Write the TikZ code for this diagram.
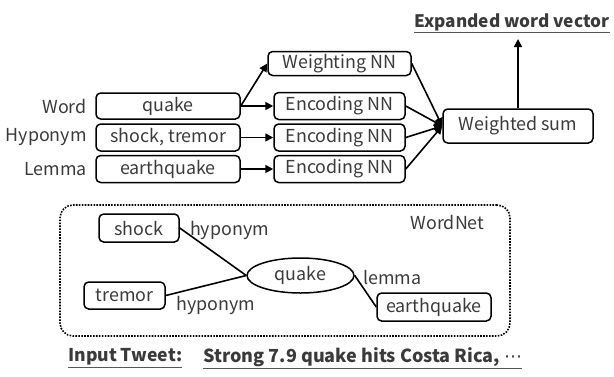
\documentclass[tikz,border=0pt]{standalone}
\usepackage{fontspec}
\setmainfont{Noto Sans CJK JP}
\newfontfamily\symfont{DejaVu Sans}
\usetikzlibrary{arrows.meta,shapes.geometric}
\definecolor{txt}{HTML}{3A3A3A}
\begin{document}
\begin{tikzpicture}[x=0.75pt,y=-0.75pt,
  font=\fontsize{13.4}{15}\selectfont, text=txt,
  box/.style={draw=black, line width=1.5pt*0.75, rounded corners=3.5pt,
    inner sep=0pt, minimum width=#1*0.75pt},
  lbl/.style={inner sep=0pt},
  conn/.style={line width=1.6pt*0.75, black},
  arr/.style={conn, -{Triangle[length=6pt,width=6pt]}},
  uline/.style={line width=1.3pt*0.75, txt!85},
  title/.style={inner sep=0pt, font=\fontsize{#1}{15}\selectfont\bfseries}]
\useasboundingbox (0,0) rectangle (614,376);

% input words and their roles
\node[box=144, minimum height=26*0.75pt] (qk)  at (168,106) {quake};
\node[box=144, minimum height=27*0.75pt] (hyp) at (168,137.5) {shock, tremor};
\node[box=144, minimum height=27*0.75pt] (lem) at (168,169) {earthquake};
\node[lbl, anchor=east] (lword) at (87,106) {Word};
\node[lbl, anchor=east] (lhyp)  at (87,137.5) {Hyponym};
\node[lbl, anchor=east] (llem)  at (87,169) {Lemma};

% networks
\node[box=143, minimum height=24*0.75pt] (wnn)  at (339.5,63.5) {Weighting NN};
\node[box=131, minimum height=27*0.75pt] (enc1) at (339.5,106) {Encoding NN};
\node[box=131, minimum height=27*0.75pt] (enc2) at (339.5,137.5) {Encoding NN};
\node[box=131, minimum height=27*0.75pt] (enc3) at (339.5,169) {Encoding NN};
\node[box=150, minimum height=34*0.75pt] (wsum) at (518,126) {Weighted sum};

\node[title=12.9] (out) at (512,22) {Expanded word vector};
\draw[uline] ([yshift=-1.2pt]out.south west) -- ([yshift=-1.2pt]out.south east);
\coordinate (outtip) at (518,39);

\draw[arr] (qk.east) -- (wnn.west);
\draw[arr] (qk.east) -- (enc1.west);
\draw[arr] (hyp.east) -- (enc2.west);
\draw[arr] (lem.east) -- (enc3.west);
\draw[arr] (wnn.east) -- (wsum.west);
\draw[arr] (enc1.east) -- (wsum.west);
\draw[arr] (enc2.east) -- (wsum.west);
\draw[arr] (enc3.east) -- (wsum.west);
\draw[arr] (wsum.north) -- (outtip);

% WordNet excerpt
\node[draw=black, densely dotted, line width=1.6pt*0.75, rounded corners=13*0.75pt,
  minimum width=450*0.75pt, minimum height=131*0.75pt, inner sep=0pt] (wn) at (285,270.5) {};
\node[lbl] (wnlbl) at (447.5,222) {WordNet};
\node[box=80, minimum height=28*0.75pt] (shock) at (139,228) {shock};
\node[box=81, minimum height=27*0.75pt] (tremor) at (124.5,295.5) {tremor};
\node[draw=black, line width=1.5pt*0.75, ellipse, inner sep=0pt,
  minimum width=107*0.75pt, minimum height=35*0.75pt] (wq) at (300.5,275.5) {quake};
\node[box=114, minimum height=28*0.75pt] (eq) at (434,307) {earthquake};
\draw[conn] (shock.east) -- (wq.west);
\draw[conn] (tremor.east) -- (wq.west);
\draw[conn] (wq.east) -- (eq.west);
\node[lbl] (h1) at (229.5,230) {hyponym};
\node[lbl] (h2) at (216,305) {hyponym};
\node[lbl] (lm) at (392.5,277) {lemma};

% input sentence
\node[title=13.2, anchor=west] (intw) at (68,357) {Input Tweet:};
\draw[uline] ([yshift=-1.2pt]intw.south west) -- ([yshift=-1.2pt]intw.south east);
\node[title=13.5, anchor=west] (tweet) at (203,357) {Strong 7.9 quake hits Costa Rica,\ {\symfont\mdseries ⋯}};
\draw[uline] ([yshift=-1.2pt]tweet.south west) -- ([yshift=-1.2pt]tweet.south east);
\end{tikzpicture}
\end{document}
